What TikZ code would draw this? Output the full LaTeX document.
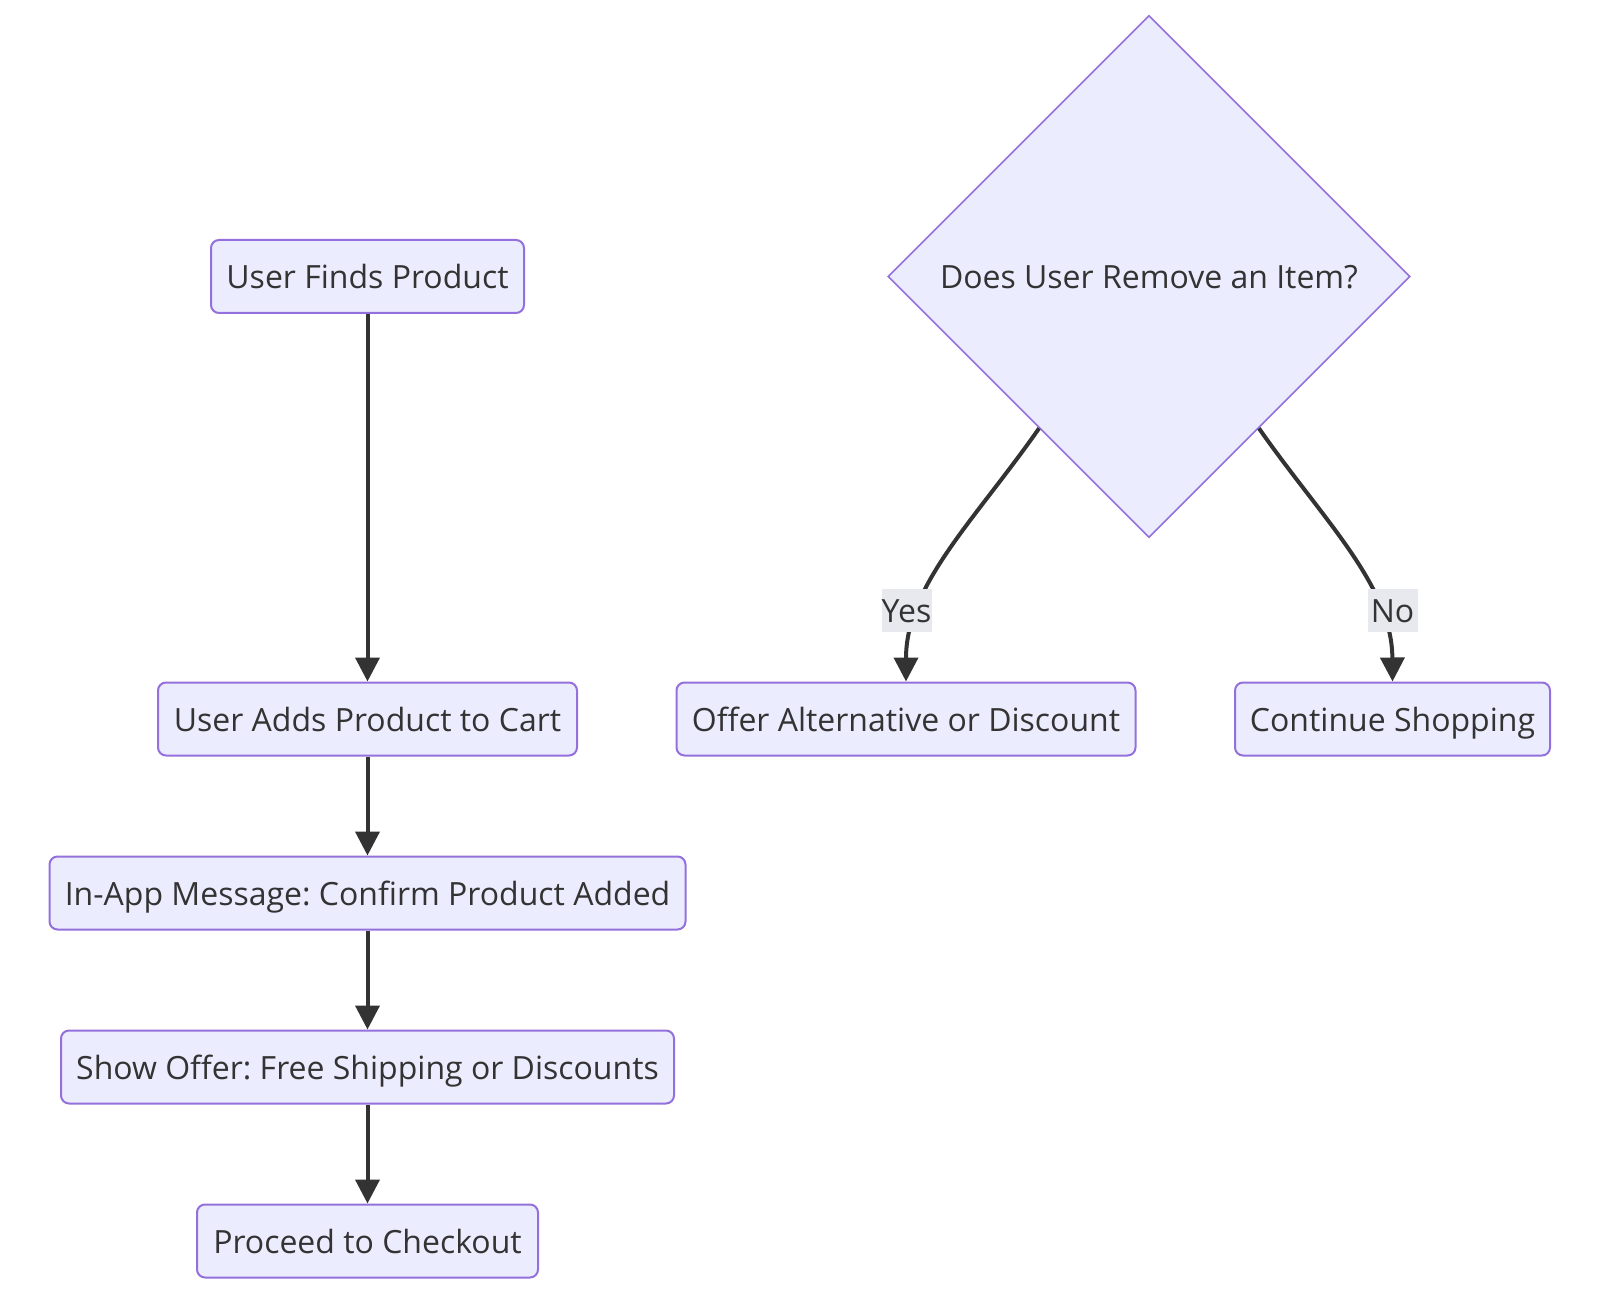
\documentclass[tikz,border=0pt]{standalone}
\usepackage{fontspec}
\setmainfont{Open Sans}
\frenchspacing
\usetikzlibrary{shapes.geometric,arrows.meta,calc}
\definecolor{nodefill}{HTML}{ECECFF}
\definecolor{nodeline}{HTML}{9370DB}
\definecolor{ink}{HTML}{333333}
\definecolor{lblbg}{HTML}{E8E8EF}
\tikzset{
  txt/.style={text=ink, font=\fontsize{16}{19}\selectfont\frenchspacing, text height=13.6pt, text depth=1.6pt},
  box/.style={txt, draw=nodeline, fill=nodefill, line width=1pt, rounded corners=4pt,
    inner sep=0pt, minimum height=36.5pt},
  decision/.style={txt, draw=nodeline, fill=nodefill, line width=0.8pt, diamond, shape aspect=1,
    inner sep=0pt, minimum width=261pt, minimum height=261pt},
  flow/.style={draw=ink, line width=2pt, -{Triangle[width=12pt,length=12pt]}},
  lbl/.style={txt, fill=lblbg, inner sep=0pt, minimum height=21.5pt, minimum width=25pt}
}
\begin{document}
\begin{tikzpicture}[x=0.5pt,y=-0.5pt]
\useasboundingbox (0,0) rectangle (1600,1294);
\node[box, minimum width=156.5pt] (find) at (367.5,276.5) {User Finds Product};
\node[box, minimum width=209.5pt] (add) at (367.5,719) {User Adds Product to Cart};
\node[box, minimum width=318pt] (msg) at (367.5,893) {In-App Message: Confirm Product Added};
\node[box, minimum width=306.5pt] (offer) at (367.5,1067) {Show Offer: Free Shipping or Discounts};
\node[box, minimum width=170.5pt] (checkout) at (367.5,1241) {Proceed to Checkout};
\node[decision] (dec) at (1149,276.5) {Does User Remove an Item?};
\node[box, minimum width=229.5pt] (alt) at (906,719) {Offer Alternative or Discount};
\node[box, minimum width=157.5pt] (cont) at (1392.5,719) {Continue Shopping};

\draw[flow] (find) -- (add);
\draw[flow] (add) -- (msg);
\draw[flow] (msg) -- (offer);
\draw[flow] (offer) -- (checkout);

\coordinate (ys) at ($(dec.west)!0.58!(dec.south)$);
\coordinate (ns) at ($(dec.east)!0.58!(dec.south)$);
\draw[flow] (ys) .. controls (975,520) and (906,585) .. (alt.north);
\draw[flow] (ns) .. controls (1323,520) and (1392,585) .. (cont.north);

\node[lbl] (yes) at (906.5,610.5) {Yes};
\node[lbl] (no) at (1392.5,610.5) {No};
\end{tikzpicture}
\end{document}
